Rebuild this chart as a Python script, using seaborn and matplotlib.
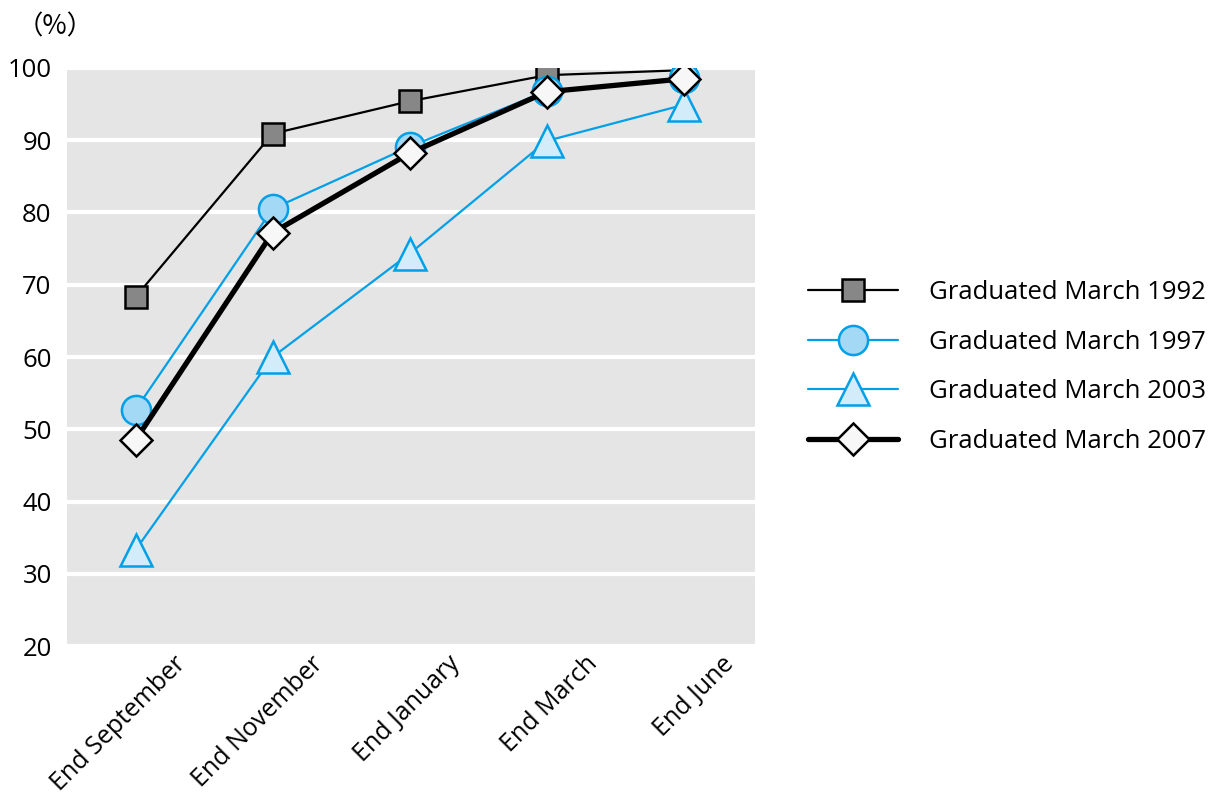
import matplotlib
matplotlib.use("Agg")
import matplotlib.pyplot as plt
from matplotlib.transforms import ScaledTranslation
import seaborn as sns
import pandas as pd

categories = ["End September", "End November", "End January", "End March", "End June"]
series_names = ["Graduated March 1992", "Graduated March 1997",
                "Graduated March 2003", "Graduated March 2007"]
v1992 = [68.3, 90.9, 95.4, 99.0, 99.7]
v1997 = [52.7, 80.5, 89.1, 96.8, 98.6]
v2003 = [33.3, 60.0, 74.3, 89.9, 94.9]
v2007 = [48.5, 77.2, 88.2, 96.7, 98.5]
yticks = [20, 30, 40, 50, 60, 70, 80, 90, 100]

sns.set_theme(style="white")
plt.rcParams['font.family'] = ['Open Sans', 'Noto Sans CJK JP', 'DejaVu Sans']
plt.rcParams['text.color'] = 'black'

fig = plt.figure(figsize=(12.23, 7.96), dpi=100)
ax = fig.add_axes([0.0548, 0.1884, 0.5625, 0.7262])
ax.set_facecolor("#e5e5e5")

styles = [
    dict(color="black", lw=1.6, marker="s", ms=16.5, mfc="#878787", mec="black", mew=1.8),
    dict(color="#00a0e9", lw=1.6, marker="o", ms=21, mfc="#a3d9f5", mec="#00a0e9", mew=1.8),
    dict(color="#00a0e9", lw=1.6, marker="^", ms=23, mfc="#d3ecf9", mec="#00a0e9", mew=1.8),
    dict(color="black", lw=3.8, marker="D", ms=16.5, mfc="#f7f7f7", mec="black", mew=1.8),
]
values = [v1992, v1997, v2003, v2007]

for name, vals, st in zip(series_names, values, styles):
    df = pd.DataFrame({"period": categories, "value": vals})
    sns.lineplot(data=df, x="period", y="value", ax=ax, label=name,
                 color=st["color"], linewidth=st["lw"], marker=st["marker"],
                 markersize=st["ms"], markerfacecolor=st["mfc"],
                 markeredgecolor=st["mec"], markeredgewidth=st["mew"],
                 sort=False, legend=False)

ax.set_xlim(-0.5, 4.52)
ax.set_ylim(20, 100)
ax.set_yticks(yticks)
ax.set_yticklabels([str(t) for t in yticks], fontsize=18.5, color="black")
ax.grid(axis="y", color="white", linewidth=3)
ax.set_axisbelow(True)
ax.set_xlabel("")
ax.set_ylabel("")
for s in ax.spines.values():
    s.set_visible(False)
ax.tick_params(axis="both", length=0, colors="black")
ax.tick_params(axis="y", pad=11)

ax.set_xticks(range(len(categories)))
ax.set_xticklabels(categories, fontsize=18, rotation=45, ha="right",
                   va="center", rotation_mode="anchor", color="black")
offset = ScaledTranslation(0.47, -0.095, fig.dpi_scale_trans)
for lbl in ax.get_xticklabels():
    lbl.set_transform(lbl.get_transform() + offset)

fig.text(0.014, 0.966, "（%）", fontsize=19, color="black",
         family=['Noto Sans CJK JP', 'DejaVu Sans'], va="center", ha="left")

handles, labels = ax.get_legend_handles_labels()
leg = fig.legend(handles, labels, loc="center left", bbox_to_anchor=(0.6525, 0.539),
                 frameon=False, fontsize=18.5, handlelength=3.5, handletextpad=1.2,
                 labelspacing=0.95, borderaxespad=0)
for t in leg.get_texts():
    t.set_color("black")

fig.savefig("out.png", dpi=100)
